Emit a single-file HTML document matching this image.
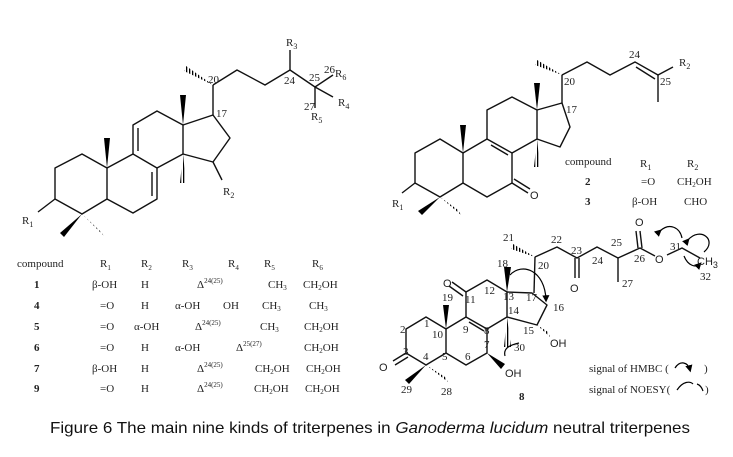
<!DOCTYPE html>
<html><head><meta charset="utf-8"><style>
html,body{margin:0;padding:0;background:#fff;}
svg{display:block;}
text{font-family:"Liberation Serif",serif;font-size:11px;fill:#222;}
.s{font-family:"Liberation Sans",sans-serif;}
.cap{font-family:"Liberation Sans",sans-serif;font-size:16px;fill:#111;}
</style></head><body>
<svg width="733" height="457" viewBox="0 0 733 457" xmlns="http://www.w3.org/2000/svg">
<defs>
<pattern id="h" width="3" height="3" patternUnits="userSpaceOnUse"><rect width="1.3" height="3" fill="#000"/></pattern>
<marker id="ar" markerWidth="6" markerHeight="6" refX="4" refY="3" orient="auto"><path d="M0,0 L6,3 L0,6 z" fill="#000"/></marker>
</defs>
<g stroke="#111" stroke-width="1.4" fill="none" stroke-linejoin="round">
<!-- Structure 1 -->
<polyline points="55,199 55,168 82,154 107,168 107,199 82,214 55,199"/>
<polyline points="107,168 133,154 157,168 157,199 133,213 107,199"/>
<line x1="152" y1="172" x2="152" y2="196"/>
<polyline points="133,154 133,125 157,111 183,125 183,154 157,168"/>
<line x1="138" y1="128" x2="138" y2="151"/>
<polyline points="183,125 213,115 230,138 213,162 183,154"/>
<line x1="213" y1="162" x2="222" y2="180"/>
<line x1="55" y1="199" x2="38" y2="212"/>
<line x1="213" y1="115" x2="213" y2="85"/>
<polyline points="213,85 237,70 265,85 290,70 315,87"/>
<line x1="290" y1="70" x2="290" y2="50"/>
<line x1="315" y1="87" x2="333" y2="75"/>
<line x1="315" y1="87" x2="333" y2="97"/>
<line x1="315" y1="87" x2="315" y2="108"/>
<!-- Structure 2/3 -->
<polyline points="415,183 415,153 440,139 463,153 463,183 440,197 415,183"/>
<polyline points="463,153 487,139 512,153 512,183 487,197 463,183"/>
<line x1="491" y1="145" x2="508" y2="155"/>
<polyline points="487,139 487,110 512,97 537,110 537,139 512,153"/>
<polyline points="537,110 562,103 570,127 560,147 537,139"/>
<line x1="512" y1="183" x2="528" y2="193"/>
<line x1="514" y1="179" x2="530" y2="189"/>
<line x1="415" y1="183" x2="402" y2="193"/>
<line x1="562" y1="103" x2="562" y2="75"/>
<polyline points="562,75 587,62 610,75 635,62 658,75"/>
<line x1="636" y1="67" x2="655" y2="79"/>
<line x1="658" y1="75" x2="673" y2="67"/>
<line x1="658" y1="75" x2="658" y2="102"/>
<!-- Structure 8 -->
<polyline points="446,329 426,317 406,329 406,353 426,365 446,353 446,329"/>
<polyline points="446,329 466,317 487,329 487,353 466,365 446,353"/>
<line x1="469" y1="322" x2="484" y2="331"/>
<polyline points="466,317 466,292 487,280 507,292 507,317 487,329"/>
<polyline points="507,292 532,293 547,305 537,325 507,317"/>
<line x1="466" y1="292" x2="452" y2="282"/>
<line x1="463" y1="296" x2="449" y2="286"/>
<line x1="406" y1="353" x2="393" y2="361"/>
<line x1="408" y1="357" x2="395" y2="365"/>
<line x1="534" y1="293" x2="535" y2="257"/>
<polyline points="535,257 557,247 577,258 597,247 618,258 640,248 655,256"/>
<polyline points="667,255 682,248 700,258"/>
<line x1="575" y1="258" x2="575" y2="278"/>
<line x1="579" y1="258" x2="579" y2="278"/>
<line x1="618" y1="258" x2="618" y2="282"/>
<line x1="638" y1="248" x2="636" y2="231"/>
<line x1="642" y1="248" x2="640" y2="231"/>
</g>
<!-- wedges -->
<g fill="#000">
<polygon points="107,168 104,138 110,138"/>
<polygon points="183,125 180,95 186,95"/>
<polygon points="82,214 60,233 64,237"/>
<polygon points="463,153 460,125 466,125"/>
<polygon points="537,110 534,83 540,83"/>
<polygon points="440,197 418,211 422,215"/>
<polygon points="446,329 443,305 449,305"/>
<polygon points="507,292 504,267 511,267"/>
<polygon points="426,365 405,380 409,384"/>
<polygon points="487,353 501,369 505,364"/>
</g>
<g fill="url(#h)">
<polygon points="82,214 100,231 104,236"/>
<polygon points="183,154 180,183 186,183"/>
<polygon points="213,85 186,66 184,71"/>
<polygon points="440,197 458,210 461,215"/>
<polygon points="537,139 534,167 540,167"/>
<polygon points="562,75 537,60 535,65"/>
<polygon points="426,365 445,377 448,382"/>
<polygon points="507,317 504,347 511,347"/>
<polygon points="535,257 513,244 511,249"/>
<polygon points="537,325 548,332 550,337"/>
</g>
<!-- arrows -->
<g stroke="#000" stroke-width="1.2" fill="none">
<path d="M510,275 C522,262 545,270 546,300" marker-end="url(#ar)"/>
<path d="M519,343 C510,345 503,348 505,356"/>
<path d="M660,231 C670,222 680,228 682,238" marker-start="url(#ar)"/>
<path d="M688,240 C700,226 718,240 704,252" marker-start="url(#ar)"/>
<path d="M684,256 C688,266 696,268 700,264" marker-end="url(#ar)"/>
<path d="M675,368 C680,360 688,362 690,370" marker-end="url(#ar)"/>
<path d="M677,390 C683,381 690,381 693,384 M697,384 C700,385 702,388 703,391"/>
</g>
<!-- labels structure 1 -->
<text x="22" y="224">R<tspan font-size="8" dy="3">1</tspan></text>
<text x="223" y="195">R<tspan font-size="8" dy="3">2</tspan></text>
<text x="286" y="46">R<tspan font-size="8" dy="3">3</tspan></text>
<text x="338" y="106">R<tspan font-size="8" dy="3">4</tspan></text>
<text x="311" y="120">R<tspan font-size="8" dy="3">5</tspan></text>
<text x="335" y="77">R<tspan font-size="8" dy="3">6</tspan></text>
<text x="208" y="83">20</text>
<text x="216" y="117">17</text>
<text x="284" y="84">24</text>
<text x="309" y="81">25</text>
<text x="324" y="73">26</text>
<text x="304" y="110">27</text>
<!-- labels structure 2 -->
<text x="392" y="207">R<tspan font-size="8" dy="3">1</tspan></text>
<text x="530" y="199" class="s" font-size="13">O</text>
<text x="564" y="85">20</text>
<text x="566" y="113">17</text>
<text x="629" y="58">24</text>
<text x="660" y="85">25</text>
<text x="679" y="66">R<tspan font-size="8" dy="3">2</tspan></text>
<text x="565" y="165" font-size="10">compound</text>
<text x="640" y="167">R<tspan font-size="8" dy="3">1</tspan></text>
<text x="687" y="167">R<tspan font-size="8" dy="3">2</tspan></text>
<text x="585" y="185" font-weight="bold" font-size="10">2</text>
<text x="641" y="185" font-size="10">=O</text>
<text x="677" y="185" font-size="10">CH<tspan font-size="7" dy="2">2</tspan><tspan dy="-2">OH</tspan></text>
<text x="585" y="205" font-weight="bold" font-size="10">3</text>
<text x="632" y="205" font-size="10">β-OH</text>
<text x="684" y="205" font-size="10">CHO</text>
<!-- labels structure 8 -->
<g font-size="10">
<text x="424" y="327">1</text><text x="400" y="333">2</text><text x="403" y="355">3</text>
<text x="423" y="360">4</text><text x="442" y="360">5</text><text x="465" y="360">6</text>
<text x="484" y="348">7</text><text x="484" y="334">8</text><text x="463" y="333">9</text>
<text x="432" y="338">10</text><text x="465" y="303">11</text><text x="484" y="294">12</text>
<text x="503" y="300">13</text><text x="508" y="314">14</text><text x="523" y="334">15</text>
<text x="553" y="311">16</text><text x="526" y="301">17</text><text x="497" y="267">18</text>
<text x="442" y="301">19</text><text x="538" y="269">20</text><text x="503" y="241">21</text>
<text x="551" y="243">22</text><text x="571" y="254">23</text><text x="592" y="264">24</text>
<text x="611" y="246">25</text><text x="634" y="262">26</text><text x="622" y="287">27</text>
<text x="401" y="393">29</text><text x="441" y="395">28</text><text x="514" y="351">30</text>
<text x="670" y="250">31</text><text x="700" y="280">32</text>
</g>
<g class="s" font-size="13">
<text x="379" y="371" class="s" font-size="13">O</text>
<text x="443" y="287" class="s" font-size="13">O</text>
<text x="570" y="292" class="s" font-size="13">O</text>
<text x="635" y="226" class="s" font-size="13">O</text>
<text x="655" y="263" class="s" font-size="13">O</text>
<text x="697" y="265" class="s" font-size="13">CH<tspan font-size="9" dy="3">3</tspan></text>
<text x="505" y="377" class="s" font-size="13">OH</text>
<text x="550" y="347" class="s" font-size="13">OH</text>
</g>
<text x="519" y="400" font-weight="bold" font-size="10">8</text>
<text x="589" y="372" font-size="10">signal of HMBC (</text>
<text x="704" y="372" font-size="10">)</text>
<text x="589" y="393" font-size="10">signal of NOESY(</text>
<text x="705" y="393" font-size="10">)</text>
<!-- table bottom left -->
<g font-size="10">
<text x="17" y="267">compound</text>
<text x="100" y="267">R<tspan font-size="7" dy="3">1</tspan></text>
<text x="141" y="267">R<tspan font-size="7" dy="3">2</tspan></text>
<text x="182" y="267">R<tspan font-size="7" dy="3">3</tspan></text>
<text x="228" y="267">R<tspan font-size="7" dy="3">4</tspan></text>
<text x="264" y="267">R<tspan font-size="7" dy="3">5</tspan></text>
<text x="312" y="267">R<tspan font-size="7" dy="3">6</tspan></text>
<g font-weight="bold"><text x="34" y="288">1</text><text x="34" y="309">4</text><text x="34" y="330">5</text><text x="34" y="351">6</text><text x="34" y="372">7</text><text x="34" y="392">9</text></g>
<text x="92" y="288">β-OH</text><text x="141" y="288">H</text><text x="197" y="288">Δ<tspan font-size="7" dy="-5">24(25)</tspan></text><text x="268" y="288">CH<tspan font-size="7" dy="2">3</tspan></text><text x="303" y="288">CH<tspan font-size="7" dy="2">2</tspan><tspan dy="-2">OH</tspan></text>
<text x="100" y="309">=O</text><text x="141" y="309">H</text><text x="175" y="309">α-OH</text><text x="223" y="309">OH</text><text x="262" y="309">CH<tspan font-size="7" dy="2">3</tspan></text><text x="309" y="309">CH<tspan font-size="7" dy="2">3</tspan></text>
<text x="100" y="330">=O</text><text x="134" y="330">α-OH</text><text x="195" y="330">Δ<tspan font-size="7" dy="-5">24(25)</tspan></text><text x="260" y="330">CH<tspan font-size="7" dy="2">3</tspan></text><text x="304" y="330">CH<tspan font-size="7" dy="2">2</tspan><tspan dy="-2">OH</tspan></text>
<text x="100" y="351">=O</text><text x="141" y="351">H</text><text x="175" y="351">α-OH</text><text x="236" y="351">Δ<tspan font-size="7" dy="-5">25(27)</tspan></text><text x="304" y="351">CH<tspan font-size="7" dy="2">2</tspan><tspan dy="-2">OH</tspan></text>
<text x="92" y="372">β-OH</text><text x="141" y="372">H</text><text x="197" y="372">Δ<tspan font-size="7" dy="-5">24(25)</tspan></text><text x="255" y="372">CH<tspan font-size="7" dy="2">2</tspan><tspan dy="-2">OH</tspan></text><text x="306" y="372">CH<tspan font-size="7" dy="2">2</tspan><tspan dy="-2">OH</tspan></text>
<text x="100" y="392">=O</text><text x="141" y="392">H</text><text x="197" y="392">Δ<tspan font-size="7" dy="-5">24(25)</tspan></text><text x="254" y="392">CH<tspan font-size="7" dy="2">2</tspan><tspan dy="-2">OH</tspan></text><text x="305" y="392">CH<tspan font-size="7" dy="2">2</tspan><tspan dy="-2">OH</tspan></text>
</g>
<text x="50" y="433" class="cap" textLength="640" lengthAdjust="spacingAndGlyphs">Figure 6 The main nine kinds of triterpenes in <tspan font-style="italic">Ganoderma lucidum</tspan> neutral triterpenes</text>
</svg>
</body></html>
